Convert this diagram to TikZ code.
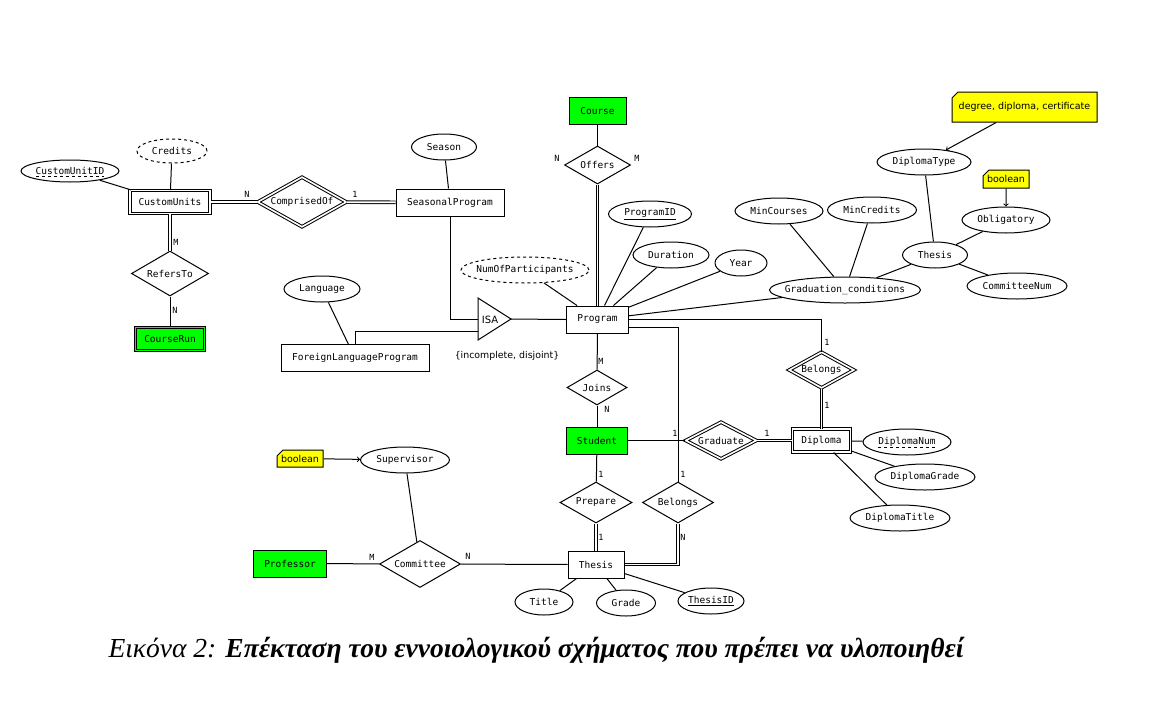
\documentclass[tikz,border=0pt]{standalone}
\usepackage{fontspec}
\setmonofont{DejaVu Sans Mono}
\setsansfont{DejaVu Sans}
\newfontfamily\capfont{Liberation Serif}
\usetikzlibrary{shapes.geometric,shapes.misc}
\definecolor{entgreen}{HTML}{00FF00}
\definecolor{noteyellow}{HTML}{FFFF00}

\tikzset{
  erfont/.style={font=\ttfamily\fontsize{9.5}{11}\selectfont},
  entity/.style={erfont, draw, rectangle, inner sep=1pt, minimum height=27pt},
  weakent/.style={entity, double, double distance=1.6pt, minimum height=23pt},
  attr/.style={erfont, draw, ellipse, inner xsep=-20pt, inner ysep=-4pt, minimum height=26pt},
  rel/.style={erfont, draw, diamond, aspect=2, inner sep=0pt},
  weakrel/.style={rel, double, double distance=1.6pt},
  note/.style={draw, fill=noteyellow, chamfered rectangle, chamfered rectangle corners=north west,
    chamfered rectangle sep=3pt, inner sep=1pt, font=\sffamily\fontsize{9.5}{11}\selectfont},
  card/.style={font=\ttfamily\fontsize{8.5}{10}\selectfont, inner sep=0pt},
  dbl/.style={line width=0.9pt, double, double distance=1.8pt},
  partkey/.style={dashed, line width=0.8pt}
}

\begin{document}
\begin{tikzpicture}[x=1pt, y=-1pt, line width=1pt]
\useasboundingbox (0,0) rectangle (1153,704);

% Entities
\node[weakent, minimum width=80pt] (cu) at (170,202) {CustomUnits};
\node[weakent, fill=entgreen, double=entgreen, minimum width=69pt] (crun) at (170,339) {CourseRun};
\node[entity, minimum width=108pt] (sp) at (450,202.5) {SeasonalProgram};
\node[entity, minimum width=148pt] (flp) at (355,358) {ForeignLanguageProgram};
\node[entity, fill=entgreen, minimum width=57pt] (course) at (597.5,111) {Course};
\node[entity, minimum width=62pt] (prog) at (597.5,319.5) {Program};
\node[entity, fill=entgreen, minimum width=61pt] (stud) at (597,440.5) {Student};
\node[weakent, minimum width=58pt] (dipl) at (821.5,440.5) {Diploma};
\node[entity, minimum width=56pt] (thes) at (596,564.5) {Thesis};
\node[entity, fill=entgreen, minimum width=73pt] (prof) at (290,563.5) {Professor};

% Relationships
\node[weakrel, minimum width=89pt, minimum height=50pt] (comp) at (302,202) {ComprisedOf};
\node[rel, minimum width=77pt, minimum height=45pt] (refs) at (170,273.5) {RefersTo};
\node[rel, minimum width=66pt, minimum height=38pt] (offers) at (597.5,165) {Offers};
\node[rel, minimum width=60pt, minimum height=35pt] (joins) at (597,387.5) {Joins};
\node[weakrel, minimum width=65pt, minimum height=36pt] (belg) at (821.5,370) {Belongs};
\node[weakrel, minimum width=71pt, minimum height=37pt] (gradu) at (721,440.5) {Graduate};
\node[rel, minimum width=72pt, minimum height=41pt] (prep) at (596,502.5) {Prepare};
\node[rel, minimum width=71pt, minimum height=41pt] (belt) at (678,502.5) {Belongs};
\node[rel, minimum width=81pt, minimum height=47pt] (comm) at (420,564) {Committee};

% Attributes
\foreach \n/\x/\y/\w/\t in {season/444/147/65/Season, lang/322/289/76/Language,
    dur/671/255/76/Duration, year/741/263/52/Year, grad/845/290/151/Graduation\_conditions,
    mincour/779/211/88/MinCourses, mincred/872/210/89/MinCredits, thatt/935/255/65/Thesis,
    dtype/924/162/94/DiplomaType, oblig/1006/220/88/Obligatory, cnum/1017/286/100/CommitteeNum,
    dgrade/925/477/100/DiplomaGrade, dtitle/900/518/100/DiplomaTitle,
    title/544/602/58/Title, grade/626/603/59/Grade, superv/405/460/89/Supervisor}
  \node[attr, minimum width=\w pt] (\n) at (\x,\y) {\t};
\node[attr, minimum width=98pt, minimum height=22pt] (cuid) at (70,171) {CustomUnitID};
\node[attr, dashed, minimum width=70pt, minimum height=24pt] (cred) at (172,151) {Credits};
\node[attr, dashed, minimum width=128pt] (nump) at (525,270) {NumOfParticipants};
\node[attr, minimum width=83pt] (pid) at (650,214) {\underline{ProgramID}};
\node[attr, minimum width=88pt] (dnum) at (907,442) {DiplomaNum};
\node[attr, minimum width=66pt] (thid) at (711,601) {\underline{ThesisID}};

% Partial keys
\draw[partkey] ([xshift=-34pt,yshift=-5pt]cuid.center) -- ([xshift=34pt,yshift=-5pt]cuid.center);
\draw[partkey] ([xshift=-29pt,yshift=-5pt]dnum.center) -- ([xshift=29pt,yshift=-5pt]dnum.center);

% Notes
\node[note, minimum width=145pt, minimum height=30pt] (ntype) at (1024.5,107) {degree, diploma, certificate};
\node[note, minimum width=46pt, minimum height=18pt] (nbool1) at (1006,179) {boolean};
\node[note, minimum width=46pt, minimum height=17pt] (nbool2) at (300,458.5) {boolean};

% ISA triangle
\coordinate (isatop) at (478,298);
\coordinate (isabot) at (478,340);
\coordinate (isaapex) at (511,319);
\coordinate (isain1) at (478,319);
\coordinate (isain2) at (478,331);
\draw (isatop) -- (isaapex) -- (isabot) -- cycle;
\node[font=\sffamily\fontsize{10}{12}\selectfont] (isa) at (490,320) {ISA};
\node[font=\sffamily\fontsize{9.4}{11}\selectfont] (isacons) at (507,356) {\{incomplete, disjoint\}};
\draw (sp.south) |- (isain1);
\draw (flp.north) |- (isain2);
\draw (isaapex) -- (prog.west);

% Connectors
\draw (cuid) -- (cu);
\draw (cred) -- (cu);
\draw[dbl] (cu) -- (comp);
\draw[dbl] (comp) -- (sp);
\draw[dbl] (cu) -- (refs);
\draw (refs) -- (crun);
\draw (season) -- (sp);
\draw (lang) -- (flp);
\draw (course) -- (offers);
\draw[dbl] (offers) -- (prog);
\foreach \a in {nump,pid,dur,year,grad} \draw (\a) -- (prog);
\foreach \a in {mincour,mincred,thatt} \draw (\a) -- (grad);
\foreach \a in {dtype,oblig,cnum} \draw (\a) -- (thatt);
\draw (prog.east) -| (belg.north);
\draw[dbl] (belg) -- (dipl);
\draw ([yshift=-8pt]prog.east) -| (belt.north);
\draw (prog) -- (joins);
\draw (joins) -- (stud);
\draw (stud) -- (gradu);
\draw[dbl] (gradu) -- (dipl);
\foreach \a in {dnum,dgrade,dtitle} \draw (dipl) -- (\a);
\draw (stud) -- (prep);
\draw[dbl] (prep) -- (thes);
\draw[dbl] (belt.south) |- (thes.east);
\foreach \a in {title,grade,thid} \draw (thes) -- (\a);
\draw (prof) -- (comm);
\draw (comm) -- (thes);
\draw (superv) -- (comm);
\draw[->] (ntype) -- (dtype);
\draw[->] (nbool1) -- (oblig);
\draw[->] (nbool2) -- (superv);

% Cardinalities
\foreach \i/\x/\y/\t in {1/247/194/N, 2/355/194/1, 3/176/242/M, 4/175/310/N,
    5/557/158/N, 6/637/158/M, 7/601/361/M, 8/607/409/N, 9/827/342/1, 10/827/405/1,
    11/675/433/1, 12/767/433/1, 13/601/474/1, 14/683/474/1, 15/601/537/1, 16/683/537/N,
    17/372/557/M, 18/468/556/N}
  \node[card] (card\i) at (\x,\y) {\t};

% Caption
\node[font=\capfont\fontsize{27.5}{32}\selectfont, anchor=base west, inner sep=0pt] (caption) at (108,657)
  {\itshape Εικόνα 2: \bfseries Επέκταση του εννοιολογικού σχήματος που πρέπει να υλοποιηθεί};
\end{tikzpicture}
\end{document}
